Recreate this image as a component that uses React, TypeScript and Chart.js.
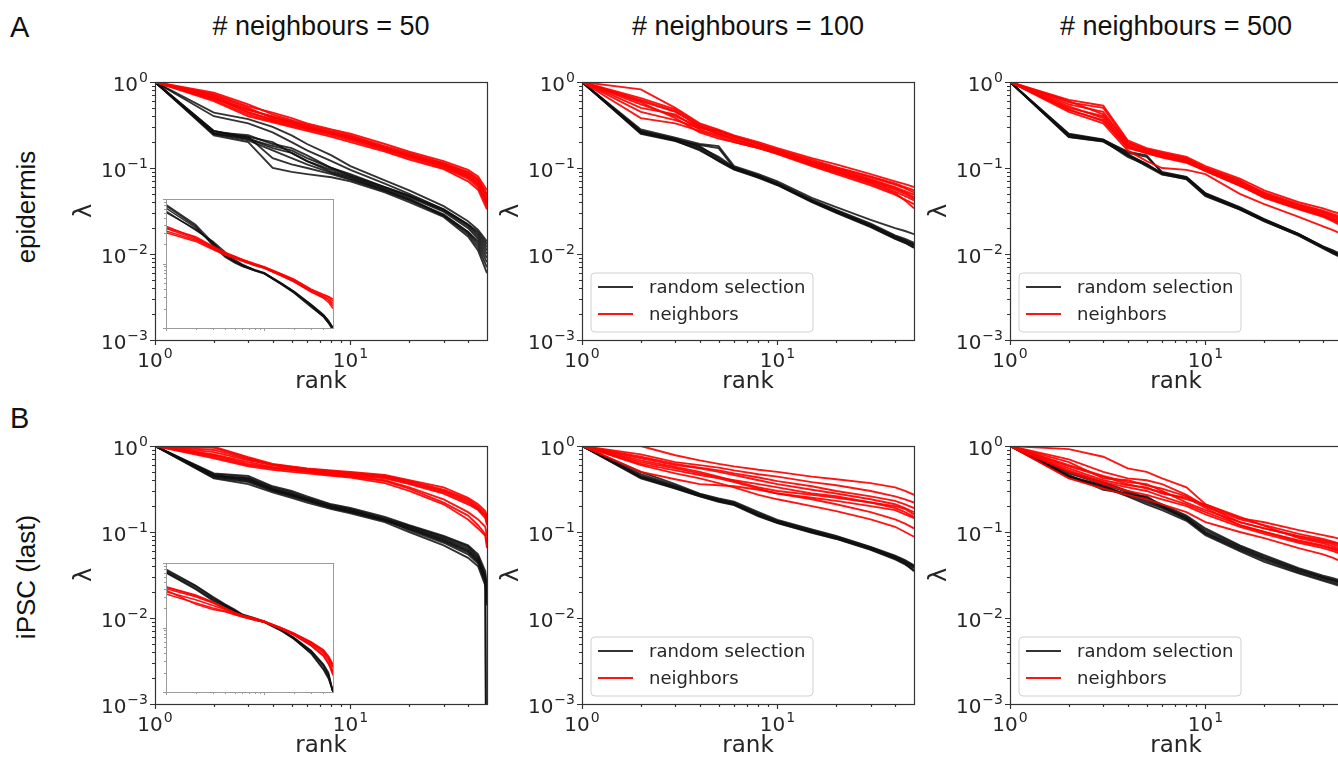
import React, { useEffect, useRef } from 'react';
import { Chart, registerables } from 'chart.js';

Chart.register(...registerables);

// ---------------- data ----------------
const RANKS = [1, 2, 3, 4, 5, 6, 8, 10, 15, 20, 30, 40, 45, 50];
const RANKS_IPSC50 = [1, 2, 3, 4, 5, 6, 8, 10, 15, 20, 30, 40, 45, 49, 50];

const Y_TICKS = [0.001, 0.01, 0.1, 1];
const Y_TICK_EXPONENTS = ['−3', '−2', '−1', '0'];
const X_TICKS = [1, 10];
const X_TICK_EXPONENTS = ['0', '1'];
const TICK_BASE = '10';
const X_MINOR = [2, 3, 4, 5, 6, 7, 8, 9, 20, 30, 40];
const MINOR_FACTORS = [2, 3, 4, 5, 6, 7, 8, 9];

const COL_TITLES = ['# neighbours = 50', '# neighbours = 100', '# neighbours = 500'];
const ROW_TITLES = ['epidermis', 'iPSC (last)'];
const PANEL_LETTERS = ['A', 'B'];
const LEGEND_LABELS = ['random selection', 'neighbors'];
const X_TITLE = 'rank';
const Y_TITLE = 'λ';

// epidermis, # neighbours = 50
const EPI50_RANDOM = [
  [1, 0.44, 0.37, 0.30, 0.24, 0.19, 0.14, 0.105, 0.072, 0.055, 0.036, 0.024, 0.019, 0.014],
  [1, 0.40, 0.33, 0.26, 0.20, 0.16, 0.12, 0.095, 0.066, 0.05, 0.033, 0.022, 0.017, 0.012],
  [1, 0.27, 0.23, 0.20, 0.15, 0.12, 0.095, 0.08, 0.058, 0.046, 0.031, 0.02, 0.015, 0.01],
  [1, 0.25, 0.21, 0.16, 0.13, 0.11, 0.088, 0.075, 0.055, 0.043, 0.029, 0.018, 0.013, 0.008],
  [1, 0.26, 0.24, 0.19, 0.17, 0.14, 0.10, 0.085, 0.06, 0.047, 0.032, 0.021, 0.016, 0.011],
  [1, 0.24, 0.20, 0.10, 0.09, 0.085, 0.078, 0.07, 0.052, 0.04, 0.027, 0.016, 0.011, 0.006],
  [1, 0.25, 0.22, 0.17, 0.15, 0.12, 0.09, 0.078, 0.056, 0.044, 0.028, 0.017, 0.012, 0.007],
  [1, 0.27, 0.22, 0.18, 0.16, 0.13, 0.1, 0.082, 0.06, 0.048, 0.033, 0.022, 0.018, 0.013],
  [1, 0.25, 0.23, 0.13, 0.11, 0.1, 0.085, 0.073, 0.054, 0.042, 0.028, 0.018, 0.014, 0.009],
];
const EPI50_NEIGH = [
  [1, 0.75, 0.55, 0.42, 0.36, 0.32, 0.27, 0.24, 0.18, 0.15, 0.115, 0.09, 0.075, 0.05],
  [1, 0.7, 0.5, 0.38, 0.34, 0.3, 0.26, 0.23, 0.17, 0.14, 0.11, 0.085, 0.07, 0.045],
  [1, 0.65, 0.45, 0.36, 0.33, 0.29, 0.25, 0.22, 0.165, 0.135, 0.105, 0.08, 0.065, 0.04],
  [1, 0.62, 0.42, 0.35, 0.31, 0.28, 0.24, 0.21, 0.16, 0.13, 0.1, 0.075, 0.06, 0.036],
  [1, 0.68, 0.47, 0.40, 0.35, 0.31, 0.26, 0.235, 0.175, 0.145, 0.112, 0.088, 0.073, 0.048],
  [1, 0.6, 0.4, 0.34, 0.30, 0.27, 0.23, 0.2, 0.155, 0.125, 0.097, 0.07, 0.056, 0.033],
  [1, 0.72, 0.52, 0.44, 0.38, 0.33, 0.28, 0.25, 0.19, 0.155, 0.12, 0.095, 0.08, 0.055],
  [1, 0.66, 0.44, 0.37, 0.32, 0.29, 0.25, 0.22, 0.17, 0.14, 0.108, 0.082, 0.067, 0.042],
  [1, 0.64, 0.48, 0.39, 0.34, 0.30, 0.255, 0.225, 0.168, 0.138, 0.104, 0.078, 0.063, 0.038],
];
const EPI50_INSET_RANDOM = [
  [0.082, 0.04, 0.021, 0.0135, 0.011, 0.0095, 0.008, 0.0072, 0.0049, 0.0037, 0.0023, 0.0016, 0.0013, 0.001],
  [0.072, 0.036, 0.02, 0.013, 0.0105, 0.0092, 0.0078, 0.007, 0.0048, 0.0036, 0.0022, 0.0015, 0.0012, 0.001],
  [0.065, 0.033, 0.022, 0.015, 0.0115, 0.0097, 0.0079, 0.0071, 0.0049, 0.0037, 0.0023, 0.0016, 0.0013, 0.001],
  [0.078, 0.038, 0.019, 0.0125, 0.0102, 0.009, 0.0077, 0.0069, 0.0047, 0.0035, 0.0021, 0.0015, 0.0012, 0.0009],
  [0.062, 0.034, 0.021, 0.0138, 0.0108, 0.0094, 0.0079, 0.0071, 0.0048, 0.0036, 0.0022, 0.0015, 0.0012, 0.001],
];
const EPI50_INSET_NEIGH = [
  [0.038, 0.025, 0.018, 0.0145, 0.0128, 0.0115, 0.0098, 0.0088, 0.0068, 0.0056, 0.0039, 0.0032, 0.003, 0.0026],
  [0.035, 0.024, 0.0175, 0.014, 0.0125, 0.0112, 0.0096, 0.0086, 0.0066, 0.0054, 0.0038, 0.0031, 0.0028, 0.0024],
  [0.032, 0.023, 0.017, 0.0138, 0.0122, 0.011, 0.0094, 0.0085, 0.0065, 0.0053, 0.0037, 0.003, 0.0027, 0.0022],
  [0.03, 0.022, 0.0165, 0.0135, 0.012, 0.0108, 0.0093, 0.0084, 0.0064, 0.0052, 0.0036, 0.0029, 0.0025, 0.002],
  [0.036, 0.026, 0.0185, 0.0148, 0.013, 0.0116, 0.0099, 0.0089, 0.0069, 0.0057, 0.004, 0.0033, 0.0031, 0.0028],
];

// epidermis, # neighbours = 100
const EPI100_RANDOM = [
  [1, 0.28, 0.225, 0.19, 0.18, 0.105, 0.085, 0.07, 0.045, 0.035, 0.025, 0.02, 0.0185, 0.017],
  [1, 0.265, 0.215, 0.18, 0.13, 0.1, 0.08, 0.066, 0.042, 0.032, 0.022, 0.016, 0.0145, 0.013],
  [1, 0.255, 0.21, 0.17, 0.125, 0.098, 0.078, 0.064, 0.041, 0.031, 0.021, 0.0155, 0.014, 0.0125],
  [1, 0.27, 0.22, 0.175, 0.135, 0.102, 0.082, 0.067, 0.043, 0.0325, 0.0225, 0.0165, 0.015, 0.0135],
  [1, 0.25, 0.205, 0.165, 0.12, 0.096, 0.077, 0.063, 0.04, 0.030, 0.0205, 0.015, 0.0135, 0.012],
  [1, 0.26, 0.212, 0.185, 0.17, 0.1, 0.081, 0.065, 0.0415, 0.0315, 0.0215, 0.0158, 0.0142, 0.0128],
  [1, 0.258, 0.208, 0.16, 0.122, 0.097, 0.079, 0.064, 0.0405, 0.0305, 0.021, 0.0152, 0.0135, 0.0118],
];
const EPI100_NEIGH = [
  [1, 0.82, 0.5, 0.33, 0.28, 0.24, 0.2, 0.17, 0.13, 0.11, 0.085, 0.07, 0.065, 0.06],
  [1, 0.6, 0.45, 0.31, 0.26, 0.23, 0.19, 0.16, 0.12, 0.1, 0.078, 0.064, 0.058, 0.052],
  [1, 0.55, 0.4, 0.3, 0.25, 0.22, 0.18, 0.155, 0.115, 0.095, 0.072, 0.058, 0.052, 0.046],
  [1, 0.5, 0.42, 0.28, 0.24, 0.21, 0.175, 0.15, 0.11, 0.09, 0.068, 0.053, 0.047, 0.042],
  [1, 0.45, 0.36, 0.29, 0.27, 0.235, 0.19, 0.16, 0.118, 0.097, 0.074, 0.06, 0.054, 0.049],
  [1, 0.38, 0.33, 0.27, 0.23, 0.2, 0.17, 0.145, 0.105, 0.085, 0.063, 0.049, 0.043, 0.038],
  [1, 0.65, 0.48, 0.32, 0.27, 0.23, 0.19, 0.165, 0.125, 0.102, 0.08, 0.066, 0.06, 0.055],
  [1, 0.58, 0.38, 0.26, 0.22, 0.2, 0.17, 0.148, 0.108, 0.088, 0.066, 0.051, 0.042, 0.034],
  [1, 0.62, 0.46, 0.3, 0.25, 0.215, 0.18, 0.152, 0.112, 0.092, 0.07, 0.056, 0.05, 0.044],
];

// epidermis, # neighbours = 500
const EPI500_RANDOM = [
  [1, 0.24, 0.21, 0.145, 0.11, 0.087, 0.077, 0.05, 0.034, 0.025, 0.017, 0.012, 0.0105, 0.0095],
  [1, 0.23, 0.205, 0.14, 0.105, 0.084, 0.075, 0.048, 0.033, 0.024, 0.0165, 0.0118, 0.0103, 0.0092],
  [1, 0.25, 0.215, 0.15, 0.135, 0.09, 0.079, 0.051, 0.035, 0.0255, 0.0172, 0.0123, 0.011, 0.0098],
  [1, 0.235, 0.208, 0.135, 0.108, 0.086, 0.076, 0.049, 0.0335, 0.0245, 0.0168, 0.012, 0.0104, 0.0093],
  [1, 0.245, 0.212, 0.155, 0.14, 0.088, 0.078, 0.0505, 0.0345, 0.0252, 0.017, 0.0121, 0.0108, 0.0096],
  [1, 0.228, 0.203, 0.142, 0.112, 0.085, 0.074, 0.047, 0.0328, 0.0242, 0.0163, 0.0116, 0.0101, 0.009],
];
const EPI500_NEIGH = [
  [1, 0.62, 0.53, 0.21, 0.17, 0.155, 0.135, 0.105, 0.075, 0.055, 0.04, 0.034, 0.031, 0.029],
  [1, 0.58, 0.5, 0.2, 0.165, 0.15, 0.13, 0.1, 0.07, 0.052, 0.038, 0.032, 0.029, 0.027],
  [1, 0.55, 0.45, 0.19, 0.16, 0.145, 0.125, 0.098, 0.068, 0.05, 0.037, 0.031, 0.028, 0.026],
  [1, 0.5, 0.4, 0.18, 0.155, 0.14, 0.12, 0.095, 0.065, 0.048, 0.035, 0.029, 0.026, 0.024],
  [1, 0.47, 0.36, 0.17, 0.15, 0.135, 0.118, 0.092, 0.062, 0.046, 0.034, 0.028, 0.025, 0.023],
  [1, 0.45, 0.33, 0.16, 0.12, 0.1, 0.095, 0.085, 0.05, 0.038, 0.027, 0.021, 0.019, 0.017],
  [1, 0.6, 0.42, 0.2, 0.16, 0.148, 0.128, 0.1, 0.072, 0.05, 0.036, 0.03, 0.027, 0.025],
  [1, 0.52, 0.38, 0.185, 0.152, 0.138, 0.122, 0.096, 0.066, 0.047, 0.034, 0.028, 0.025, 0.022],
  [1, 0.48, 0.35, 0.175, 0.148, 0.132, 0.115, 0.093, 0.063, 0.045, 0.033, 0.027, 0.024, 0.021],
];

// iPSC (last), # neighbours = 50  (ranks: RANKS_IPSC50)
const IPSC50_RANDOM = [
  [1, 0.48, 0.45, 0.34, 0.30, 0.26, 0.21, 0.19, 0.15, 0.12, 0.09, 0.07, 0.055, 0.035, 0.02],
  [1, 0.45, 0.42, 0.32, 0.28, 0.245, 0.2, 0.18, 0.14, 0.115, 0.085, 0.065, 0.05, 0.03, 0.017],
  [1, 0.43, 0.38, 0.30, 0.26, 0.23, 0.19, 0.17, 0.135, 0.11, 0.08, 0.06, 0.046, 0.028, 0.015],
  [1, 0.46, 0.40, 0.31, 0.27, 0.235, 0.195, 0.175, 0.138, 0.105, 0.075, 0.055, 0.043, 0.026, 0.014],
  [1, 0.42, 0.36, 0.29, 0.25, 0.22, 0.185, 0.165, 0.13, 0.1, 0.07, 0.05, 0.04, 0.024, 0.000001],
  [1, 0.47, 0.43, 0.33, 0.29, 0.25, 0.205, 0.185, 0.145, 0.118, 0.088, 0.068, 0.052, 0.032, 0.018],
  [1, 0.44, 0.39, 0.305, 0.265, 0.232, 0.192, 0.172, 0.137, 0.108, 0.078, 0.058, 0.045, 0.027, 0.016],
  [1, 0.45, 0.41, 0.315, 0.275, 0.24, 0.198, 0.178, 0.14, 0.112, 0.082, 0.062, 0.048, 0.029, 0.000001],
];
const IPSC50_NEIGH = [
  [1, 0.98, 0.74, 0.62, 0.58, 0.55, 0.52, 0.5, 0.46, 0.4, 0.33, 0.25, 0.21, 0.175, 0.15],
  [1, 0.9, 0.7, 0.6, 0.56, 0.53, 0.5, 0.48, 0.44, 0.38, 0.3, 0.23, 0.19, 0.155, 0.13],
  [1, 0.8, 0.65, 0.57, 0.54, 0.51, 0.48, 0.46, 0.42, 0.36, 0.28, 0.21, 0.18, 0.145, 0.12],
  [1, 0.75, 0.6, 0.55, 0.52, 0.5, 0.47, 0.45, 0.4, 0.33, 0.24, 0.17, 0.14, 0.115, 0.09],
  [1, 0.72, 0.58, 0.53, 0.5, 0.48, 0.45, 0.43, 0.37, 0.3, 0.21, 0.14, 0.11, 0.09, 0.065],
  [1, 0.85, 0.68, 0.6, 0.56, 0.53, 0.49, 0.47, 0.43, 0.37, 0.29, 0.22, 0.185, 0.155, 0.135],
  [1, 0.95, 0.72, 0.61, 0.57, 0.54, 0.51, 0.49, 0.45, 0.39, 0.31, 0.24, 0.2, 0.165, 0.14],
  [1, 0.78, 0.62, 0.56, 0.53, 0.5, 0.46, 0.44, 0.39, 0.32, 0.22, 0.155, 0.12, 0.095, 0.075],
];
const IPSC50_INSET_RANDOM = [
  [0.08, 0.045, 0.03, 0.023, 0.019, 0.016, 0.014, 0.0125, 0.0092, 0.007, 0.0044, 0.0027, 0.002, 0.001],
  [0.074, 0.042, 0.028, 0.022, 0.018, 0.0155, 0.0135, 0.0122, 0.009, 0.0068, 0.0042, 0.0025, 0.0018, 0.001],
  [0.07, 0.039, 0.026, 0.021, 0.0175, 0.015, 0.0132, 0.012, 0.0088, 0.0066, 0.004, 0.0023, 0.0017, 0.001],
  [0.077, 0.044, 0.029, 0.0225, 0.0185, 0.0158, 0.0137, 0.0124, 0.0091, 0.0069, 0.0043, 0.0026, 0.0019, 0.001],
  [0.072, 0.04, 0.027, 0.0215, 0.0178, 0.0152, 0.0133, 0.0121, 0.0089, 0.0067, 0.0039, 0.0022, 0.0016, 0.001],
];
const IPSC50_INSET_NEIGH = [
  [0.043, 0.032, 0.025, 0.02, 0.017, 0.0155, 0.0138, 0.0125, 0.0098, 0.0082, 0.006, 0.0045, 0.0036, 0.0027],
  [0.04, 0.03, 0.024, 0.0195, 0.0168, 0.0152, 0.0136, 0.0124, 0.0097, 0.008, 0.0057, 0.0042, 0.0033, 0.0024],
  [0.036, 0.027, 0.022, 0.019, 0.0165, 0.015, 0.0134, 0.0123, 0.0096, 0.0079, 0.0055, 0.004, 0.0031, 0.0021],
  [0.033, 0.024, 0.02, 0.018, 0.016, 0.0147, 0.0132, 0.0122, 0.0095, 0.0077, 0.0053, 0.0037, 0.0028, 0.0018],
  [0.038, 0.023, 0.019, 0.0175, 0.0158, 0.0145, 0.013, 0.012, 0.0094, 0.0076, 0.0052, 0.0036, 0.0027, 0.002],
  [0.042, 0.031, 0.0245, 0.0198, 0.017, 0.0154, 0.0137, 0.0125, 0.0098, 0.0081, 0.0059, 0.0044, 0.0035, 0.0025],
];

// iPSC (last), # neighbours = 100
const IPSC100_RANDOM = [
  [1, 0.47, 0.345, 0.275, 0.24, 0.22, 0.165, 0.135, 0.105, 0.088, 0.066, 0.052, 0.046, 0.04],
  [1, 0.44, 0.33, 0.265, 0.23, 0.21, 0.158, 0.13, 0.1, 0.085, 0.064, 0.05, 0.044, 0.038],
  [1, 0.42, 0.32, 0.26, 0.225, 0.205, 0.152, 0.127, 0.098, 0.083, 0.062, 0.048, 0.042, 0.036],
  [1, 0.5, 0.36, 0.28, 0.245, 0.225, 0.17, 0.138, 0.107, 0.09, 0.067, 0.053, 0.047, 0.041],
  [1, 0.45, 0.34, 0.27, 0.235, 0.215, 0.16, 0.132, 0.102, 0.086, 0.065, 0.051, 0.045, 0.039],
  [1, 0.43, 0.325, 0.262, 0.228, 0.208, 0.155, 0.128, 0.099, 0.084, 0.063, 0.049, 0.043, 0.035],
];
const IPSC100_NEIGH = [
  [1, 1.0, 0.78, 0.68, 0.62, 0.58, 0.53, 0.5, 0.44, 0.41, 0.37, 0.33, 0.3, 0.27],
  [1, 0.8, 0.65, 0.6, 0.56, 0.52, 0.47, 0.44, 0.38, 0.35, 0.3, 0.26, 0.24, 0.22],
  [1, 0.72, 0.6, 0.55, 0.5, 0.46, 0.4, 0.36, 0.31, 0.28, 0.24, 0.21, 0.19, 0.17],
  [1, 0.68, 0.57, 0.5, 0.44, 0.39, 0.33, 0.3, 0.27, 0.25, 0.22, 0.2, 0.185, 0.16],
  [1, 0.62, 0.52, 0.46, 0.42, 0.38, 0.32, 0.28, 0.24, 0.21, 0.17, 0.14, 0.125, 0.11],
  [1, 0.6, 0.48, 0.42, 0.37, 0.33, 0.27, 0.24, 0.2, 0.175, 0.14, 0.115, 0.1, 0.088],
  [1, 0.5, 0.41, 0.36, 0.35, 0.34, 0.31, 0.28, 0.25, 0.23, 0.2, 0.18, 0.16, 0.145],
  [1, 0.75, 0.62, 0.56, 0.52, 0.48, 0.43, 0.39, 0.34, 0.3, 0.26, 0.23, 0.21, 0.19],
  [1, 0.65, 0.55, 0.48, 0.43, 0.4, 0.36, 0.33, 0.28, 0.26, 0.22, 0.19, 0.17, 0.15],
];

// iPSC (last), # neighbours = 500
const IPSC500_RANDOM = [
  [1, 0.48, 0.36, 0.29, 0.24, 0.2, 0.15, 0.105, 0.068, 0.052, 0.037, 0.03, 0.028, 0.026],
  [1, 0.45, 0.34, 0.27, 0.22, 0.19, 0.14, 0.098, 0.064, 0.049, 0.035, 0.029, 0.027, 0.025],
  [1, 0.43, 0.33, 0.26, 0.21, 0.18, 0.135, 0.092, 0.06, 0.045, 0.033, 0.027, 0.025, 0.023],
  [1, 0.5, 0.38, 0.3, 0.25, 0.21, 0.155, 0.11, 0.07, 0.054, 0.038, 0.031, 0.029, 0.027],
  [1, 0.46, 0.31, 0.28, 0.23, 0.195, 0.145, 0.1, 0.066, 0.05, 0.036, 0.0295, 0.0275, 0.0255],
  [1, 0.44, 0.35, 0.265, 0.26, 0.2, 0.142, 0.095, 0.062, 0.047, 0.034, 0.028, 0.026, 0.024],
];
const IPSC500_NEIGH = [
  [1, 0.92, 0.75, 0.55, 0.5, 0.42, 0.33, 0.21, 0.145, 0.13, 0.105, 0.092, 0.087, 0.082],
  [1, 0.7, 0.5, 0.42, 0.4, 0.36, 0.27, 0.2, 0.14, 0.12, 0.095, 0.083, 0.077, 0.072],
  [1, 0.6, 0.45, 0.38, 0.36, 0.3, 0.22, 0.18, 0.13, 0.11, 0.088, 0.077, 0.072, 0.066],
  [1, 0.55, 0.4, 0.35, 0.33, 0.28, 0.25, 0.19, 0.12, 0.1, 0.08, 0.07, 0.065, 0.06],
  [1, 0.5, 0.36, 0.3, 0.27, 0.24, 0.2, 0.16, 0.115, 0.095, 0.075, 0.065, 0.06, 0.055],
  [1, 0.42, 0.32, 0.27, 0.24, 0.21, 0.17, 0.13, 0.1, 0.085, 0.065, 0.055, 0.05, 0.045],
  [1, 0.65, 0.42, 0.4, 0.35, 0.32, 0.26, 0.2, 0.13, 0.11, 0.09, 0.08, 0.075, 0.07],
  [1, 0.52, 0.38, 0.33, 0.3, 0.26, 0.21, 0.17, 0.12, 0.1, 0.078, 0.068, 0.063, 0.058],
  [1, 0.58, 0.44, 0.36, 0.32, 0.29, 0.24, 0.21, 0.15, 0.118, 0.085, 0.074, 0.068, 0.062],
];

type PanelSpec = {
  ranks: number[];
  random: number[][];
  neigh: number[][];
  legend: boolean;
  inset?: { random: number[][]; neigh: number[][] };
};

const PANELS: PanelSpec[] = [
  { ranks: RANKS, random: EPI50_RANDOM, neigh: EPI50_NEIGH, legend: false, inset: { random: EPI50_INSET_RANDOM, neigh: EPI50_INSET_NEIGH } },
  { ranks: RANKS, random: EPI100_RANDOM, neigh: EPI100_NEIGH, legend: true },
  { ranks: RANKS, random: EPI500_RANDOM, neigh: EPI500_NEIGH, legend: true },
  { ranks: RANKS_IPSC50, random: IPSC50_RANDOM, neigh: IPSC50_NEIGH, legend: false, inset: { random: IPSC50_INSET_RANDOM, neigh: IPSC50_INSET_NEIGH } },
  { ranks: RANKS, random: IPSC100_RANDOM, neigh: IPSC100_NEIGH, legend: true },
  { ranks: RANKS, random: IPSC500_RANDOM, neigh: IPSC500_NEIGH, legend: true },
];

// ---------------- layout / style ----------------
const PLOT_LEFT = [155, 582, 1010];
const PLOT_TOP = [82, 446];
const PLOT_W = 332;
const PLOT_H = 258;
const Y_AXIS_W = 85;
const PAD_T = 14;
const PAD_R = 8;
const X_AXIS_H = 56;
const ROW_CENTER = [207, 577];

const INSET_DX = 11;
const INSET_DY = 117;
const INSET_W = 167;
const INSET_H = 129;
const INSET_PAD = 6;

const BLACK = 'rgba(15,15,15,0.85)';
const RED = 'rgba(255,0,0,0.92)';
const TEXT = '#262626';
const SPINE = '#333333';
const SANS = '"Liberation Sans", Arial, Helvetica, sans-serif';
const DEJAVU = '"DejaVu Sans"';
const BASE_FONT = '20px ' + DEJAVU;
const SUP_FONT = '14px ' + DEJAVU;

function buildDatasets(ranks: number[], random: number[][], neigh: number[][], width: number) {
  const ds: any[] = [];
  random.forEach((vals) =>
    ds.push({
      data: ranks.map((r, i) => ({ x: r, y: vals[i] })),
      borderColor: BLACK,
      borderWidth: width,
      pointRadius: 0,
      fill: false,
      tension: 0,
      order: 1,
    })
  );
  neigh.forEach((vals) =>
    ds.push({
      data: ranks.map((r, i) => ({ x: r, y: vals[i] })),
      borderColor: RED,
      borderWidth: width,
      pointRadius: 0,
      fill: false,
      tension: 0,
      order: 0,
    })
  );
  return ds;
}

function minorY(min: number, max: number) {
  const out: number[] = [];
  for (let d = Math.floor(Math.log10(min)); d < Math.ceil(Math.log10(max)); d++) {
    MINOR_FACTORS.forEach((f) => {
      const v = f * Math.pow(10, d);
      if (v > min && v < max) out.push(v);
    });
  }
  return out;
}

function drawPowerLabel(ctx: CanvasRenderingContext2D, exp: string, x: number, baseline: number, align: 'right' | 'center') {
  ctx.font = SUP_FONT;
  const wSup = ctx.measureText(exp).width;
  ctx.font = BASE_FONT;
  const wBase = ctx.measureText(TICK_BASE).width;
  const total = wBase + 1 + wSup;
  const x0 = align === 'right' ? x - total : x - total / 2;
  ctx.textAlign = 'left';
  ctx.textBaseline = 'alphabetic';
  ctx.fillStyle = TEXT;
  ctx.font = BASE_FONT;
  ctx.fillText(TICK_BASE, x0, baseline);
  ctx.font = SUP_FONT;
  ctx.fillText(exp, x0 + wBase + 1, baseline - 9);
}

function makeFramePlugin(kind: 'main' | 'inset', legend: boolean) {
  return {
    id: 'frame-' + kind,
    beforeDatasetsDraw(chart: any) {
      if (kind !== 'inset') return;
      const { ctx, chartArea: a } = chart;
      ctx.save();
      ctx.fillStyle = '#ffffff';
      ctx.fillRect(a.left, a.top, a.right - a.left, a.bottom - a.top);
      ctx.restore();
    },
    afterDraw(chart: any) {
      const { ctx, chartArea: a, scales } = chart;
      const x = scales.x;
      const y = scales.y;
      ctx.save();
      const col = kind === 'main' ? SPINE : '#9a9a9a';
      ctx.strokeStyle = col;
      ctx.lineWidth = kind === 'main' ? 1.2 : 1;
      const majLen = kind === 'main' ? 5 : 3;
      const minLen = kind === 'main' ? 3 : 2;
      const yMin = y.min;
      const yMax = y.max;
      ctx.beginPath();
      Y_TICKS.filter((v) => v >= yMin && v <= yMax).forEach((v) => {
        const py = Math.round(y.getPixelForValue(v)) + 0.5;
        ctx.moveTo(a.left, py);
        ctx.lineTo(a.left - majLen, py);
      });
      minorY(yMin, yMax).forEach((v) => {
        const py = Math.round(y.getPixelForValue(v)) + 0.5;
        ctx.moveTo(a.left, py);
        ctx.lineTo(a.left - minLen, py);
      });
      X_TICKS.forEach((v) => {
        const px = Math.round(x.getPixelForValue(v)) + 0.5;
        ctx.moveTo(px, a.bottom);
        ctx.lineTo(px, a.bottom + majLen);
      });
      X_MINOR.forEach((v) => {
        const px = Math.round(x.getPixelForValue(v)) + 0.5;
        ctx.moveTo(px, a.bottom);
        ctx.lineTo(px, a.bottom + minLen);
      });
      ctx.stroke();
      ctx.strokeRect(Math.round(a.left) + 0.5, Math.round(a.top) + 0.5, Math.round(a.right - a.left), Math.round(a.bottom - a.top));

      if (kind === 'main') {
        // tick labels (10 with superscript exponent), placed by the scales
        Y_TICKS.forEach((v, i) => {
          const py = y.getPixelForValue(v);
          drawPowerLabel(ctx, Y_TICK_EXPONENTS[i], a.left - 7, py + 9, 'right');
        });
        X_TICKS.forEach((v, i) => {
          const px = x.getPixelForValue(v);
          drawPowerLabel(ctx, X_TICK_EXPONENTS[i], px, a.bottom + 27, 'center');
        });
      }

      if (legend) {
        const bw = 222;
        const bh = 59;
        const bx = a.left + 9;
        const by = a.bottom - 8 - bh;
        ctx.beginPath();
        const r = 4;
        ctx.moveTo(bx + r, by);
        ctx.arcTo(bx + bw, by, bx + bw, by + bh, r);
        ctx.arcTo(bx + bw, by + bh, bx, by + bh, r);
        ctx.arcTo(bx, by + bh, bx, by, r);
        ctx.arcTo(bx, by, bx + bw, by, r);
        ctx.closePath();
        ctx.fillStyle = 'rgba(255,255,255,0.85)';
        ctx.fill();
        ctx.strokeStyle = '#d0d0d0';
        ctx.lineWidth = 1;
        ctx.stroke();
        const entries = [
          { label: LEGEND_LABELS[0], color: BLACK, dy: 14 },
          { label: LEGEND_LABELS[1], color: RED, dy: 41 },
        ];
        ctx.font = '18px ' + DEJAVU;
        ctx.textBaseline = 'middle';
        ctx.textAlign = 'left';
        entries.forEach((e) => {
          ctx.beginPath();
          ctx.strokeStyle = e.color;
          ctx.lineWidth = 2;
          ctx.moveTo(bx + 7, by + e.dy);
          ctx.lineTo(bx + 42, by + e.dy);
          ctx.stroke();
          ctx.fillStyle = TEXT;
          ctx.fillText(e.label, bx + 58, by + e.dy + 1);
        });
      }
      ctx.restore();
    },
  };
}

function MainPanel({ spec, left, top }: { spec: PanelSpec; left: number; top: number }) {
  const ref = useRef<HTMLCanvasElement>(null);
  const W = Y_AXIS_W + PLOT_W + PAD_R;
  const H = PAD_T + PLOT_H + X_AXIS_H;
  useEffect(() => {
    const chart = new Chart(ref.current as HTMLCanvasElement, {
      type: 'line',
      data: { datasets: buildDatasets(spec.ranks, spec.random, spec.neigh, 1.9) },
      options: {
        animation: false,
        responsive: false,
        devicePixelRatio: 1,
        events: [],
        layout: { padding: { left: 0, top: PAD_T, right: PAD_R, bottom: 0 } },
        plugins: { legend: { display: false }, tooltip: { enabled: false }, title: { display: false } },
        scales: {
          x: {
            type: 'logarithmic',
            min: 1,
            max: 50,
            bounds: 'data',
            afterBuildTicks: (s: any) => {
              s.ticks = X_TICKS.map((v) => ({ value: v }));
            },
            afterFit: (s: any) => {
              s.height = X_AXIS_H;
            },
            grid: { display: false, drawTicks: false },
            border: { display: false },
            ticks: { display: false },
            title: { display: true, text: X_TITLE, color: TEXT, font: { family: DEJAVU, size: 23 }, padding: 0 },
          },
          y: {
            type: 'logarithmic',
            min: 0.001,
            max: 1,
            bounds: 'data',
            afterBuildTicks: (s: any) => {
              s.ticks = Y_TICKS.map((v) => ({ value: v }));
            },
            afterFit: (s: any) => {
              s.width = Y_AXIS_W;
            },
            grid: { display: false, drawTicks: false },
            border: { display: false },
            ticks: { display: false },
            title: { display: true, text: Y_TITLE, color: TEXT, font: { family: DEJAVU, size: 24 }, padding: 0 },
          },
        },
      } as any,
      plugins: [makeFramePlugin('main', spec.legend)],
    });
    return () => chart.destroy();
  }, []);
  return (
    <canvas
      ref={ref}
      width={W}
      height={H}
      style={{ position: 'absolute', left: left - Y_AXIS_W, top: top - PAD_T, width: W, height: H }}
    />
  );
}

function InsetPanel({ spec, left, top }: { spec: PanelSpec; left: number; top: number }) {
  const ref = useRef<HTMLCanvasElement>(null);
  const W = INSET_W + 2 * INSET_PAD;
  const H = INSET_H + 2 * INSET_PAD;
  useEffect(() => {
    if (!spec.inset) return;
    const chart = new Chart(ref.current as HTMLCanvasElement, {
      type: 'line',
      data: { datasets: buildDatasets(RANKS, spec.inset.random, spec.inset.neigh, 1.5) },
      options: {
        animation: false,
        responsive: false,
        devicePixelRatio: 1,
        events: [],
        layout: { padding: INSET_PAD },
        plugins: { legend: { display: false }, tooltip: { enabled: false } },
        scales: {
          x: { type: 'logarithmic', min: 1, max: 50, display: false },
          y: { type: 'logarithmic', min: 0.001, max: 0.1, display: false },
        },
      } as any,
      plugins: [makeFramePlugin('inset', false)],
    });
    return () => chart.destroy();
  }, []);
  return (
    <canvas
      ref={ref}
      width={W}
      height={H}
      style={{ position: 'absolute', left: left + INSET_DX - INSET_PAD, top: top + INSET_DY - INSET_PAD, width: W, height: H }}
    />
  );
}

export default function App() {
  return (
    <div
      style={{
        position: 'absolute',
        left: 0,
        top: 0,
        width: 1338,
        height: 760,
        overflow: 'hidden',
        background: '#ffffff',
      }}
    >
      {PANEL_LETTERS.map((t, r) => (
        <div
          key={t}
          style={{
            position: 'absolute',
            left: 10,
            top: r === 0 ? 12.5 : 403.5,
            fontFamily: SANS,
            fontSize: 29,
            lineHeight: '1',
            color: '#111',
          }}
        >
          {t}
        </div>
      ))}
      {COL_TITLES.map((t, c) => (
        <div
          key={t}
          style={{
            position: 'absolute',
            left: PLOT_LEFT[c] + PLOT_W / 2 - 200,
            width: 400,
            top: 13,
            textAlign: 'center',
            fontFamily: SANS,
            fontSize: 27,
            lineHeight: '1',
            color: '#111',
            whiteSpace: 'nowrap',
          }}
        >
          {t}
        </div>
      ))}
      {ROW_TITLES.map((t, r) => (
        <div
          key={t}
          style={{
            position: 'absolute',
            left: 26 - 100,
            top: ROW_CENTER[r] - 15,
            width: 200,
            height: 30,
            lineHeight: '30px',
            textAlign: 'center',
            fontFamily: SANS,
            fontSize: 26,
            color: '#111',
            whiteSpace: 'nowrap',
            transform: 'rotate(-90deg)',
          }}
        >
          {t}
        </div>
      ))}
      {PANELS.map((p, i) => (
        <MainPanel key={'m' + i} spec={p} left={PLOT_LEFT[i % 3]} top={PLOT_TOP[Math.floor(i / 3)]} />
      ))}
      {PANELS.map((p, i) =>
        p.inset ? (
          <InsetPanel key={'i' + i} spec={p} left={PLOT_LEFT[i % 3]} top={PLOT_TOP[Math.floor(i / 3)]} />
        ) : null
      )}
    </div>
  );
}
